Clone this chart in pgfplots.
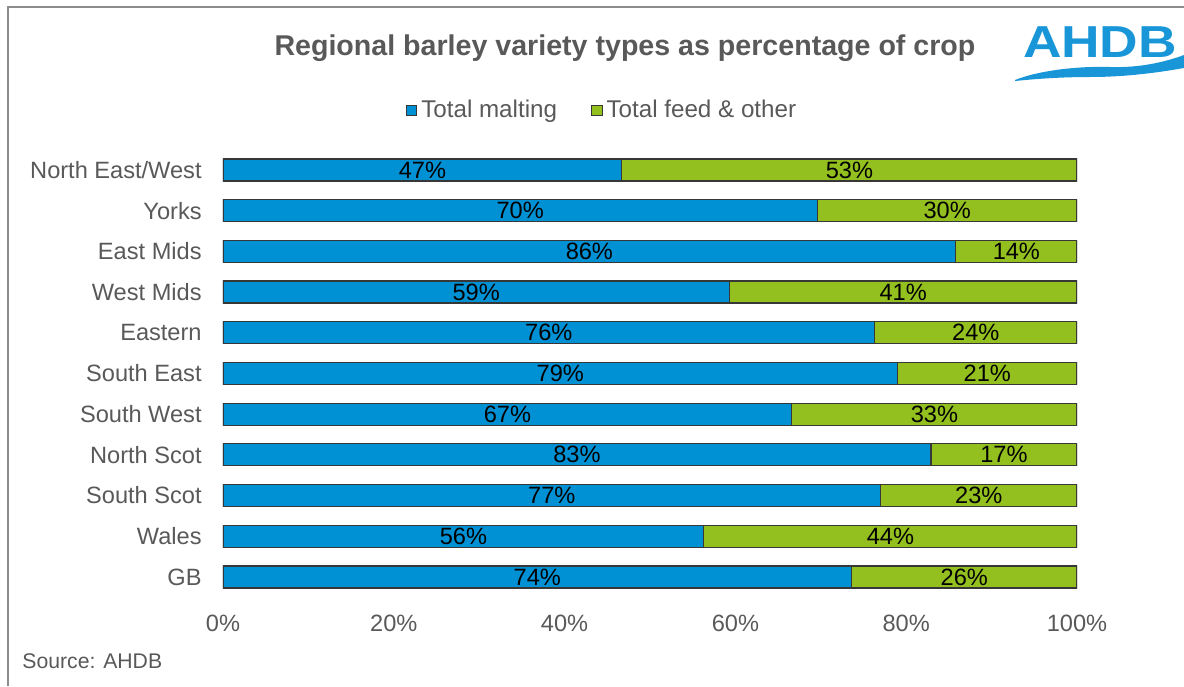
\documentclass[border=0pt]{standalone}
\usepackage{pgfplots}
\pgfplotsset{compat=1.18}
\usepackage{pgfplotstable}
\usepackage{fontspec}
\setmainfont{Liberation Sans}
\definecolor{malt}{RGB}{0,144,212}
\definecolor{feed}{RGB}{147,192,31}
\definecolor{txt}{RGB}{89,89,89}
\definecolor{edge}{RGB}{55,55,55}
\definecolor{logo}{RGB}{25,150,215}
\definecolor{frame}{RGB}{140,140,140}

\pgfplotstableread{
idx malt maltlab feed feedlab
0 46.7 47 53.3 53
1 69.6 70 30.4 30
2 85.8 86 14.2 14
3 59.3 59 40.7 41
4 76.3 76 23.7 24
5 79.0 79 21.0 21
6 66.6 67 33.4 33
7 82.9 83 17.1 17
8 77.0 77 23.0 23
9 56.3 56 43.7 44
10 73.6 74 26.4 26
}\datatable

\begin{document}
\begin{tikzpicture}
\path[use as bounding box] (0,0) rectangle (592pt,-343pt);
\begin{scope}[x=0.5pt,y=-0.5pt]
  % frame
  \draw[frame, line width=1pt] (8,686) -- (8,7) -- (1184,7);
  % title
  \node[font=\fontsize{14.3}{17}\selectfont\bfseries, text=txt] at (625,48) {Regional barley variety types as percentage of crop};
  % logo
  \node[font=\fontsize{22.4}{26}\selectfont\bfseries, text=logo, xscale=1.19, inner sep=0pt, anchor=center] at (1100,42) {AHDB};
  \fill[logo] (1015,80) .. controls (1040,70) and (1080,66) .. (1110,67)
     .. controls (1140,68) and (1165,62) .. (1184,55)
     -- (1184,68) .. controls (1150,74) and (1120,77) .. (1090,77)
     .. controls (1060,77) and (1035,79) .. (1015,81) -- cycle;
  % source
  \node[font=\fontsize{10.6}{13}\selectfont, text=txt, anchor=west, inner sep=0pt] at (22,661) {Source: AHDB};
\end{scope}

\begin{axis}[
  at={(111.5pt,-74.8pt)}, anchor=north west,
  scale only axis, width=427pt, height=223.85pt,
  xbar stacked, bar width=11pt,
  xmin=0, xmax=100, ymin=-0.5, ymax=10.5, y dir=reverse,
  axis line style={draw=none},
  major tick length=0pt,
  ytick={0,...,10},
  yticklabels={North East/West,Yorks,East Mids,West Mids,Eastern,South East,South West,North Scot,South Scot,Wales,GB},
  xtick={0,20,40,60,80,100},
  xticklabel={\pgfmathprintnumber{\tick}\%},
  /pgf/number format/assume math mode=true,
  tick label style={font=\fontsize{11.8}{13}\selectfont, text=txt},
  yticklabel style={anchor=east, inner sep=0pt, xshift=-10.5pt},
  xticklabel style={anchor=north, inner sep=0pt, yshift=-8.5pt},
  legend style={at={(0.445,1.088)}, anchor=center, draw=none, fill=none,
    legend columns=2, font=\fontsize{12.1}{14}\selectfont, text=txt,
    /tikz/every even column/.append style={column sep=15pt}},
  legend image code/.code={\draw[#1, line width=0.5pt] (0pt,-2.6pt) rectangle (5.2pt,2.6pt);},
  nodes near coords={\pgfmathprintnumber{\pgfplotspointmeta}\%},
  point meta=explicit,
  every node near coord/.append style={font=\fontsize{11.8}{13}\selectfont, text=black, anchor=center},
]
\addplot[fill=malt, draw=edge, line width=0.6pt]
  table[x=malt, y=idx, meta=maltlab] \datatable;
\addlegendentry{Total malting}
\addplot[fill=feed, draw=edge, line width=0.6pt]
  table[x=feed, y=idx, meta=feedlab] \datatable;
\addlegendentry{Total feed \& other}
\end{axis}
\end{tikzpicture}
\end{document}
